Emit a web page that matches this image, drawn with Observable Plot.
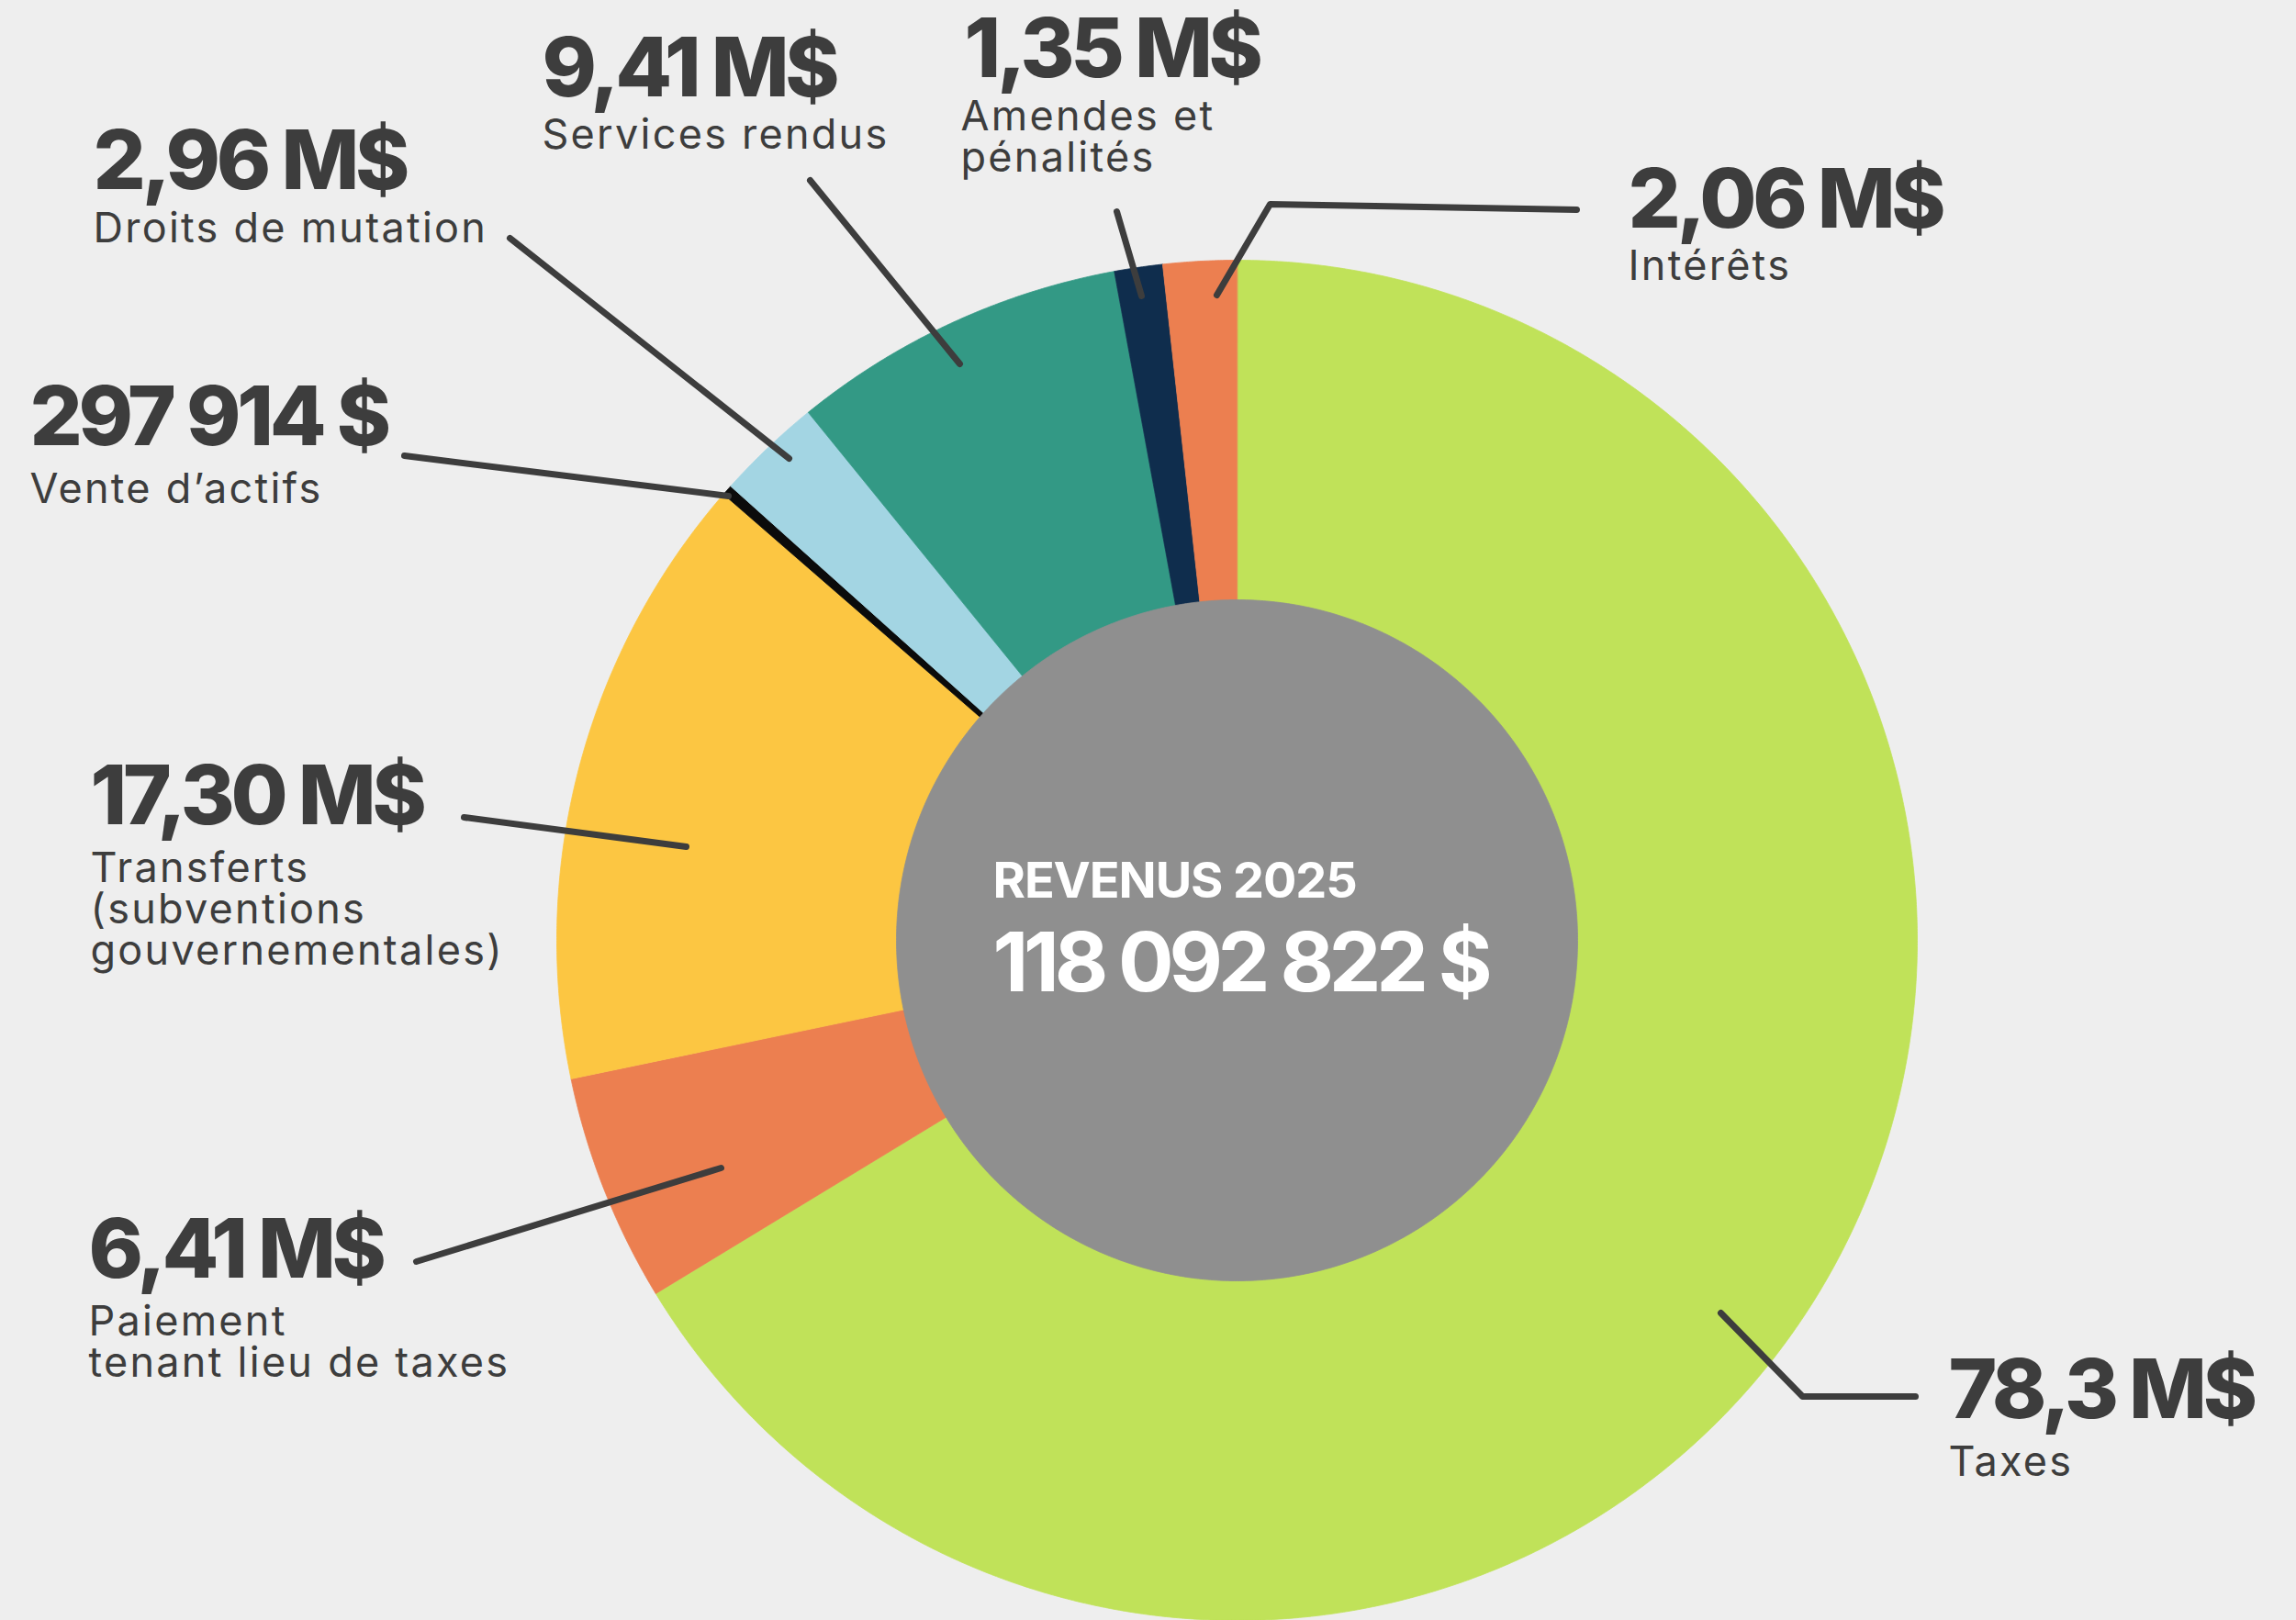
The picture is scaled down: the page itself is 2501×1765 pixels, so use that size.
<!DOCTYPE html>
<html>
<head>
<meta charset="utf-8">
<script src="https://cdn.jsdelivr.net/npm/d3@7"></script>
<script src="https://cdn.jsdelivr.net/npm/@observablehq/plot@0.6"></script>
<style>
  html, body { margin: 0; padding: 0; background: #eeeeee; }
  #chart svg { display: block; }
  g.vals text { letter-spacing: -0.048em; }
  g.names text { letter-spacing: 0.05em; }
  g.ctitle text { letter-spacing: -0.02em; }
  g.ctotal text { letter-spacing: -0.058em; }
</style>
</head>
<body>
<div id="chart"></div>
<script>
// ---------------- DATA ----------------
const categories = [
  "Taxes",
  "Paiement tenant lieu de taxes",
  "Transferts (subventions gouvernementales)",
  "Vente d’actifs",
  "Droits de mutation",
  "Services rendus",
  "Amendes et pénalités",
  "Intérêts"
];
const values = [78.3, 6.41, 17.30, 0.297914, 2.96, 9.41, 1.35, 2.06]; // millions $
const valueLabels = ["78,3 M$", "6,41 M$", "17,30 M$", "297 914 $", "2,96 M$", "9,41 M$", "1,35 M$", "2,06 M$"];
const nameLines = [
  ["Taxes"],
  ["Paiement", "tenant lieu de taxes"],
  ["Transferts", "(subventions", "gouvernementales)"],
  ["Vente d’actifs"],
  ["Droits de mutation"],
  ["Services rendus"],
  ["Amendes et", "pénalités"],
  ["Intérêts"]
];
const colors = ["#c0e259", "#ec7f50", "#fcc642", "#0b0b0b", "#a3d5e3", "#339985", "#0f2d4d", "#ec7f50"];
const centerTitle = "REVENUS 2025";
const centerTotal = "118 092 822 $";

// ---------------- LAYOUT (pixels) ----------------
const W = 2501, H = 1765;
const CX = 1347, CY = 1024, R = 741, R_IN = 371;
const FONT = "Inter, 'Open Sans', sans-serif";
const TEXT_COLOR = "#3d3d3d";
const labelX        = [2122, 96, 98, 32, 101, 590, 1050, 1773];
const valueBaseline = [1544, 1391, 897, 484, 205, 104, 83, 247];
const nameBaseline  = [1607, 1454, 960, 547, 263, 161, 141, 304];
const NAME_SIZE = 45, nameLineGap = 45;
const leaders = [
  [[1874, 1430], [1963, 1521], [2086, 1521]],
  [[785, 1272], [453, 1374]],
  [[747, 922], [505, 890]],
  [[793, 540], [440, 496]],
  [[859, 499], [555, 259]],
  [[1045, 396], [882, 196]],
  [[1243, 322], [1216, 230]],
  [[1325, 321], [1383, 222], [1717, 228]]
];
const centerX = 1081, centerTitleBaseline = 977, centerTotalBaseline = 1079;

// ---------------- BUILD ----------------
const arcs = d3.pie().sort(null).value(d => d).startAngle(0).endAngle(2 * Math.PI)(values);
const slicePts = [];
arcs.forEach((a, i) => {
  const cat = categories[i];
  const n = Math.max(2, Math.ceil((a.endAngle - a.startAngle) / (Math.PI / 720)));
  slicePts.push({cat, x: CX, y: CY});
  for (let k = 0; k <= n; k++) {
    const t = a.startAngle + (a.endAngle - a.startAngle) * k / n;
    slicePts.push({cat, x: CX + R * Math.sin(t), y: CY - R * Math.cos(t)});
  }
});
const holePts = d3.range(0, 721).map(k => {
  const t = k / 720 * 2 * Math.PI;
  return {x: CX + R_IN * Math.sin(t), y: CY - R_IN * Math.cos(t)};
});
const leaderPts = leaders.flatMap((pts, i) => pts.map(([x, y]) => ({cat: categories[i], x, y})));
const valueRows = categories.map((c, i) => ({text: valueLabels[i], x: labelX[i], y: valueBaseline[i]}));
// one multi-line text per category; lineAnchor "bottom" puts the last baseline at y
const nameRows = categories.map((c, i) => ({
  text: nameLines[i].join("\n"),
  x: labelX[i] + (i === 6 ? -4 : 0),
  y: nameBaseline[i] + (nameLines[i].length - 1) * nameLineGap
}));

const chart = Plot.plot({
  width: W, height: H, margin: 0,
  x: {domain: [0, W], range: [0, W], axis: null},
  y: {domain: [0, H], range: [0, H], axis: null},
  color: {domain: categories, range: colors},
  style: {background: "#eeeeee", overflow: "visible"},
  marks: [
    Plot.line(slicePts, {x: "x", y: "y", z: "cat", fill: "cat", stroke: "cat", strokeWidth: 0.8, curve: "linear-closed"}),
    Plot.line(holePts, {x: "x", y: "y", fill: "#8f8f8f", stroke: "#8f8f8f", strokeWidth: 0.8}),
    Plot.line(leaderPts, {x: "x", y: "y", z: "cat", stroke: TEXT_COLOR, strokeWidth: 7, strokeLinecap: "round", strokeLinejoin: "round"}),
    Plot.text(valueRows, {x: "x", y: "y", text: "text", textAnchor: "start", lineAnchor: "bottom",
      fontSize: 90, fontWeight: 800, fontFamily: FONT, fill: TEXT_COLOR, className: "vals"}),
    Plot.text(nameRows, {x: "x", y: "y", text: "text", textAnchor: "start", lineAnchor: "bottom",
      lineHeight: nameLineGap / NAME_SIZE,
      fontSize: NAME_SIZE, fontWeight: 400, fontFamily: FONT, fill: TEXT_COLOR, className: "names"}),
    Plot.text([centerTitle], {x: () => centerX, y: () => centerTitleBaseline, text: d => d, textAnchor: "start", lineAnchor: "bottom",
      fontSize: 54, fontWeight: 700, fontFamily: FONT, fill: "#ffffff", className: "ctitle"}),
    Plot.text([centerTotal], {x: () => centerX, y: () => centerTotalBaseline, text: d => d, textAnchor: "start", lineAnchor: "bottom",
      fontSize: 90, fontWeight: 700, fontFamily: FONT, fill: "#ffffff", className: "ctotal"})
  ]
});
document.getElementById("chart").append(chart);
</script>
</body>
</html>
